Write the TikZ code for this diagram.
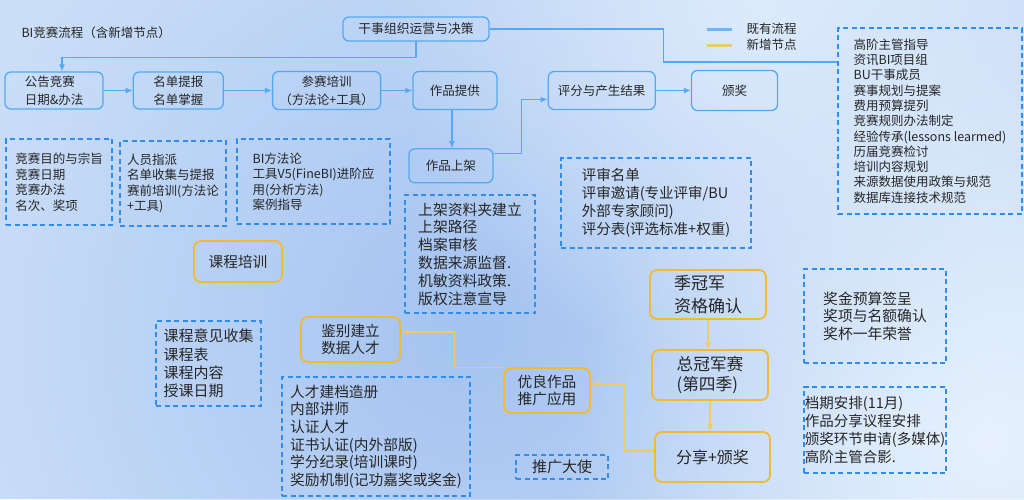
\documentclass[tikz,border=0pt]{standalone}
\usepackage{fontspec}
\setmainfont{Noto Sans CJK SC}
\usetikzlibrary{arrows.meta, positioning, fadings}
\definecolor{flowBlue}{HTML}{55A9F2}
\definecolor{noteBlue}{HTML}{2F8DEB}
\definecolor{newGold}{HTML}{F4B92C}
\definecolor{newLine}{HTML}{EECB66}
\definecolor{inkGray}{HTML}{262626}
\definecolor{bgBlue}{HTML}{CADEF8}
\definecolor{bgDeep}{HTML}{A4C3F1}
\definecolor{bgPale}{HTML}{E6F1FD}
\definecolor{bgLight}{HTML}{DDEBFC}
\newcommand{\fsz}[2]{\fontsize{#1}{#2}\selectfont}
\tikzfading[name=softblob, inner color=transparent!0, outer color=transparent!100]

\begin{document}
\begin{tikzpicture}[
  x=1pt, y=-1pt,
  every node/.style={text=inkGray},
  flow/.style={draw=flowBlue, line width=1.3pt, rounded corners=6pt, align=left, inner sep=0pt, font=\fsz{12.5}{18}},
  newbox/.style={draw=newGold, line width=1.8pt, rounded corners=7pt, align=left, inner sep=0pt},
  note/.style={draw=noteBlue, line width=1.4pt, dash pattern=on 5pt off 3.5pt, align=left, inner sep=0pt},
  arr/.style={draw=flowBlue, line width=1.2pt, -{Latex[length=7pt,width=6pt]}},
  narr/.style={draw=newLine, line width=1.2pt, -{Latex[length=7pt,width=6pt]}},
  link/.style={draw=flowBlue, line width=1.2pt}
]
\useasboundingbox (0,0) rectangle (1024,499);
% background
\fill[bgBlue] (0,0) rectangle (1024,499);
\fill[bgDeep, path fading=softblob] (470,330) circle (520);
\fill[bgPale, path fading=softblob] (990,440) circle (420);
\fill[bgLight, path fading=softblob] (760,0) circle (380);

\node[anchor=west, font=\fsz{12.5}{14}] (title) at (18,33) {BI竞赛流程（含新增节点）};

% legend
\node[anchor=west, font=\fsz{12.5}{14}] (legold) at (743,29) {既有流程};
\node[anchor=west, font=\fsz{12.5}{14}] (legnew) at (743,45) {新增节点};
\draw[flowBlue!85, line width=3pt] ([xshift=-36pt]legold.west) -- ++(25,0);
\draw[newLine, line width=3pt] ([xshift=-36pt]legnew.west) -- ++(25,0);

% existing flow
\node[flow, minimum width=98pt, minimum height=37pt] (notice) at (54,90.5) {公告竞赛\\日期\&办法};
\node[flow, minimum width=90pt, minimum height=37pt, right=29pt of notice] (roster) {名单提报\\名单掌握};
\node[flow, minimum width=108pt, minimum height=38pt, right=48pt of roster, align=center] (train) {参赛培训\\（方法论+工具）};
\node[flow, minimum width=84pt, minimum height=38pt, right=31pt of train] (work) {作品提供};
\node[flow, minimum width=107pt, minimum height=38pt, right=50pt of work] (score) {评分与产生结果};
\node[flow, minimum width=86pt, minimum height=40pt, right=35pt of score] (award) {颁奖};
\node[flow, minimum width=146pt, minimum height=24pt, font=\fsz{12.8}{15}] (ganshi) at (416,29) {干事组织运营与决策};
\node[flow, minimum width=84pt, minimum height=34pt, below=38pt of work, xshift=-4pt] (shelf) {作品上架};

% notes
\node[note, minimum width=106pt, minimum height=86pt, font=\fsz{12.5}{15.5}] (goal) at (59,182) {竞赛目的与宗旨\\竞赛日期\\竞赛办法\\名次、奖项};
\node[note, minimum width=106pt, minimum height=85pt, font=\fsz{12.5}{15.5}] (staff) at (173,183.5) {人员指派\\名单收集与提报\\赛前培训(方法论\\+工具)};
\node[note, minimum width=153pt, minimum height=85pt, font=\fsz{12.5}{15.5}] (method) at (313.5,181.5) {BI方法论\\工具V5(FineBI)进阶应\\用(分析方法)\\案例指导};
\node[note, minimum width=130pt, minimum height=118pt, font=\fsz{14.8}{17.8}] (shelfnote) at (470,254) {上架资料夹建立\\上架路径\\档案审核\\数据来源监督.\\机敏资料政策.\\版权注意宣导};
\node[note, minimum width=190pt, minimum height=90pt, font=\fsz{14.5}{18}] (judge) at (656,203) {评审名单\\评审邀请(专业评审/BU\\外部专家顾问)\\评分表(评选标准+权重)};
\node[note, minimum width=184pt, minimum height=186pt, font=\fsz{12.5}{15.3}] (orgbox) at (930,121) {高阶主管指导\\资讯BI项目组\\BU干事成员\\赛事规划与提案\\费用预算提列\\竞赛规则办法制定\\经验传承(lessons learmed)\\历届竞赛检讨\\培训内容规划\\来源数据使用政策与规范\\数据库连接技术规范};
\node[note, minimum width=105pt, minimum height=85pt, font=\fsz{15}{18.3}] (course) at (208.5,363.5) {课程意见收集\\课程表\\课程内容\\授课日期};
\node[note, minimum width=188pt, minimum height=119pt, font=\fsz{14.7}{17.6}] (talent) at (376,436.5) {人才建档造册\\内部讲师\\认证人才\\证书认证(内外部版)\\学分纪录(培训课时)\\奖励机制(记功嘉奖或奖金)};
\node[note, minimum width=142pt, minimum height=94pt, font=\fsz{14.8}{17.5}] (prize) at (875,316) {奖金预算签呈\\奖项与名额确认\\奖杯一年荣誉};
\node[note, minimum width=142pt, minimum height=86pt, font=\fsz{14.5}{18}] (sched) at (875,430) {档期安排(11月)\\作品分享议程安排\\颁奖环节申请(多媒体)\\高阶主管合影.};
\node[note, minimum width=92pt, minimum height=24pt, font=\fsz{15}{17}] (ambassador) at (562,467) {推广大使};

% new nodes
\node[newbox, minimum width=99pt, minimum height=45pt, font=\fsz{14.6}{17}, align=center] (jianbie) at (350.5,339.5) {鉴别建立\\数据人才};
\node[newbox, minimum width=88pt, minimum height=41pt, font=\fsz{14.7}{17}] (kecheng) at (238,261.5) {课程培训};
\node[newbox, minimum width=116pt, minimum height=49pt, font=\fsz{17}{23}] (jiguan) at (708,294.5) {季冠军\\资格确认};
\node[newbox, minimum width=116pt, minimum height=50pt, font=\fsz{16.7}{19.5}] (zongguan) at (710,375) {总冠军赛\\(第四季)};
\node[newbox, minimum width=115pt, minimum height=50pt, font=\fsz{16}{18}] (fenxiang) at (712.5,457) {分享+颁奖};
\node[newbox, minimum width=86pt, minimum height=45pt, font=\fsz{14.7}{17}] (youliang) at (547,390.5) {优良作品\\推广应用};

% existing connectors
\draw[arr] (notice) -- (roster);
\draw[arr] (roster.east) -- (roster.east -| train.west);
\draw[arr] (train) -- (work);
\draw[arr] (score.east) -- (score.east -| award.west);
\draw[arr] ([xshift=-3pt]work.south) -- ([xshift=-3pt]work.south |- shelf.north);
\draw[arr] ([yshift=12pt]shelf.east) -- ++(28,0) |- ([yshift=-9pt]score.west);
\draw[arr] (ganshi.south) -- ++(0,16) -| ([xshift=8pt]notice.north);
\draw[link] (ganshi.east) -- ++(174,0) |- ([yshift=59pt]orgbox.west);

% new connectors
\draw[narr] (jiguan.south) -- (jiguan.south |- zongguan.north);
\draw[narr] (zongguan.south) -- (zongguan.south |- fenxiang.north);
\draw[narr] ([yshift=6pt]fenxiang.west) -- ++(-30,0) |- ([yshift=6.5pt]youliang.east);
\draw[narr] (youliang.north west) -- ++(-49,0) |- ([yshift=7.5pt]jianbie.east);
\end{tikzpicture}
\end{document}
